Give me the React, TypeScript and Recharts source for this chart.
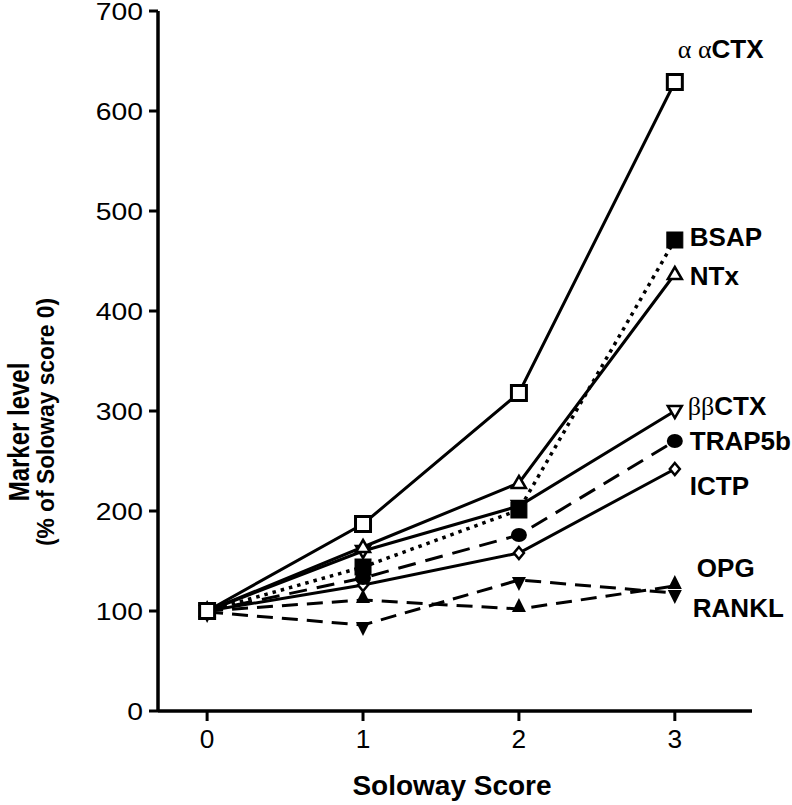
import React from 'react';
import { LineChart, Line, XAxis, YAxis, LabelList, Label } from 'recharts';

const scores = [0, 1, 2, 3];
const aaCTX = [100, 187, 318, 629];
const bsap = [100, 144, 201, 471];
const ntx = [100, 164, 228, 437];
const bbCTX = [100, 160, 205, 300];
const trap5b = [100, 133, 176, 270];
const ictp = [100, 126, 158, 242];
const opg = [100, 111, 102, 125];
const rankl = [99, 86, 131, 118];
const yTicks = [0, 100, 200, 300, 400, 500, 600, 700];
const xTicks = [0, 1, 2, 3];

const data = scores.map((s, i) => ({
  score: s,
  aaCTX: aaCTX[i],
  bsap: bsap[i],
  ntx: ntx[i],
  bbCTX: bbCTX[i],
  trap5b: trap5b[i],
  ictp: ictp[i],
  opg: opg[i],
  rankl: rankl[i],
}));

const SANS = 'Liberation Sans, Arial, Helvetica, sans-serif';
const SERIF = 'Liberation Serif, Times New Roman, serif';

type MarkerKind =
  | 'openSquare'
  | 'filledSquare'
  | 'openTriUp'
  | 'openTriDown'
  | 'filledCircle'
  | 'openDiamond'
  | 'filledTriUp'
  | 'filledTriDown';

const makeDot = (kind: MarkerKind) => (props: any) => {
  const { cx, cy, index } = props;
  const key = `${kind}-${index}`;
  if (cx == null || cy == null) return <g key={key} />;
  switch (kind) {
    case 'openSquare':
      return <rect key={key} x={cx - 7.5} y={cy - 7.5} width={15} height={15} fill="#fff" stroke="#000" strokeWidth={3} />;
    case 'filledSquare':
      return <rect key={key} x={cx - 8} y={cy - 8} width={16} height={16} fill="#000" stroke="#000" strokeWidth={1} />;
    case 'openTriUp':
      return <polygon key={key} points={`${cx},${cy - 7} ${cx + 7},${cy + 5} ${cx - 7},${cy + 5}`} fill="#fff" stroke="#000" strokeWidth={2.5} />;
    case 'openTriDown':
      return <polygon key={key} points={`${cx},${cy + 7} ${cx + 7},${cy - 5} ${cx - 7},${cy - 5}`} fill="#fff" stroke="#000" strokeWidth={2.5} />;
    case 'filledCircle':
      return <ellipse key={key} cx={cx} cy={cy} rx={8} ry={7} fill="#000" />;
    case 'openDiamond':
      return <polygon key={key} points={`${cx},${cy - 6} ${cx + 5},${cy} ${cx},${cy + 6} ${cx - 5},${cy}`} fill="#fff" stroke="#000" strokeWidth={2.5} />;
    case 'filledTriUp':
      return <polygon key={key} points={`${cx},${cy - 11} ${cx + 7},${cy + 3} ${cx - 7},${cy + 3}`} fill="#000" />;
    case 'filledTriDown':
      return <polygon key={key} points={`${cx},${cy + 11} ${cx + 7},${cy - 3} ${cx - 7},${cy - 3}`} fill="#000" />;
  }
  return <g key={key} />;
};

const makeEndLabel = (prefix: string, name: string, dx: number, dy: number) => (props: any) => {
  const { x, y, index } = props;
  if (index !== 3 || x == null || y == null) return null;
  return (
    <text x={x + dx} y={y + dy} fontSize={26} fill="#000" fontFamily={SANS} fontWeight="bold">
      {prefix ? (
        <tspan fontFamily={SERIF} fontWeight="normal">
          {prefix}
        </tspan>
      ) : null}
      <tspan>{name}</tspan>
    </text>
  );
};

const YTick = (props: any) => {
  const { x, y, payload } = props;
  return (
    <g transform={`translate(${x},${y}) scale(1.18,1)`}>
      <text x={0} y={0} dy="0.36em" textAnchor="end" fontSize={24} fontFamily={SANS} fill="#000">
        {payload.value}
      </text>
    </g>
  );
};

const XTick = (props: any) => {
  const { x, y, payload } = props;
  return (
    <g transform={`translate(${x},${y}) scale(1.05,1)`}>
      <text x={0} y={0} dy="0.75em" textAnchor="middle" fontSize={25} fontFamily={SANS} fill="#000">
        {payload.value}
      </text>
    </g>
  );
};

type SeriesDef = {
  key: string;
  marker: MarkerKind;
  dash?: string;
  width: number;
  prefix: string;
  name: string;
  dx: number;
  dy: number;
};

const series: SeriesDef[] = [
  { key: 'rankl', marker: 'filledTriDown', dash: '16 9', width: 3, prefix: '', name: 'RANKL', dx: 18, dy: 24 },
  { key: 'opg', marker: 'filledTriUp', dash: '16 9', width: 3, prefix: '', name: 'OPG', dx: 22, dy: -9 },
  { key: 'ictp', marker: 'openDiamond', width: 3, prefix: '', name: 'ICTP', dx: 15, dy: 26 },
  { key: 'trap5b', marker: 'filledCircle', dash: '18 10', width: 3, prefix: '', name: 'TRAP5b', dx: 15, dy: 9 },
  { key: 'bbCTX', marker: 'openTriDown', width: 3, prefix: 'ββ', name: 'CTX', dx: 13, dy: 4 },
  { key: 'ntx', marker: 'openTriUp', width: 3, prefix: '', name: 'NTx', dx: 15, dy: 11 },
  { key: 'bsap', marker: 'filledSquare', dash: '3.5 5', width: 3.5, prefix: '', name: 'BSAP', dx: 15, dy: 6 },
  { key: 'aaCTX', marker: 'openSquare', width: 3, prefix: 'α α', name: 'CTX', dx: 3, dy: -24 },
];

export default function App() {
  return (
    <div style={{ position: 'absolute', left: 0, top: 0, width: 792, height: 805, background: '#fff' }}>
      <LineChart width={792} height={805} data={data} margin={{ top: 11, right: 40, bottom: 0, left: 0 }}>
        <XAxis
          dataKey="score"
          type="number"
          domain={[-0.315, 3.495]}
          ticks={xTicks}
          height={94}
          axisLine={{ stroke: '#000', strokeWidth: 3.5 }}
          tickLine={{ stroke: '#000', strokeWidth: 3 }}
          tickSize={10}
          tickMargin={8}
          tick={<XTick />}
          allowDataOverflow
        >
          <Label
            content={() => (
              <text x={452} y={795} textAnchor="middle" fontSize={28} fontWeight="bold" fontFamily={SANS} fill="#000">
                Soloway Score
              </text>
            )}
          />
        </XAxis>
        <YAxis
          type="number"
          domain={[0, 700]}
          ticks={yTicks}
          width={158}
          axisLine={{ stroke: '#000', strokeWidth: 3.5 }}
          tickLine={{ stroke: '#000', strokeWidth: 3 }}
          tickSize={9}
          tickMargin={6}
          tick={<YTick />}
          interval={0}
        >
          <Label
            content={() => (
              <g>
                <text
                  x={0}
                  y={0}
                  transform="translate(29, 432) rotate(-90) scale(0.8,1)"
                  textAnchor="middle"
                  fontSize={30}
                  fontWeight="bold"
                  fontFamily={SANS}
                  fill="#000"
                >
                  Marker level
                </text>
                <text
                  x={0}
                  y={0}
                  transform="translate(54, 422) rotate(-90) scale(0.95,1)"
                  textAnchor="middle"
                  fontSize={24}
                  fontWeight="bold"
                  fontFamily={SANS}
                  fill="#000"
                >
                  (% of Soloway score 0)
                </text>
              </g>
            )}
          />
        </YAxis>
        {series.map((s) => (
          <Line
            key={s.key}
            dataKey={s.key}
            stroke="#000"
            strokeWidth={s.width}
            strokeDasharray={s.dash}
            dot={makeDot(s.marker)}
            activeDot={false}
            isAnimationActive={false}
            type="linear"
          >
            <LabelList dataKey={s.key} content={makeEndLabel(s.prefix, s.name, s.dx, s.dy)} />
          </Line>
        ))}
      </LineChart>
    </div>
  );
}
